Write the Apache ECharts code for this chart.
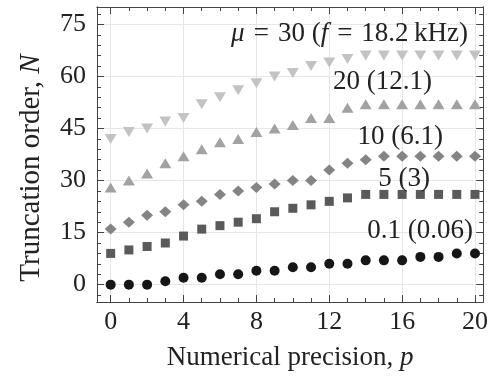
<!DOCTYPE html>
<html><head><meta charset="utf-8">
<script src="https://cdn.jsdelivr.net/npm/echarts@6/dist/echarts.min.js"></script>
<style>html,body{margin:0;padding:0;background:#fff}#c{width:491px;height:384px}</style>
</head><body><div id="c"></div>
<script>
const precision = [0,1,2,3,4,5,6,7,8,9,10,11,12,13,14,15,16,17,18,19,20];
const n_mu01 = [0,0,0,1,2,2,3,3,4,4,5,5,6,6,7,7,7,8,8,9,9];
const n_mu5  = [9,10,11,12,14,16,17,18,19,21,22,23,24,25,26,26,26,26,26,26,26];
const n_mu10 = [16,18,20,21,23,24,26,27,28,29,30,30,33,35,36,37,37,37,37,37,37];
const n_mu20 = [28,30,32,35,37,39,41,42,44,45,46,48,48,51,52,52,52,52,52,52,52];
const n_mu30 = [42,44,45,47,48,52,54,56,58,60,61,63,64,65,66,66,66,66,66,66,66];
const xTicks = [0,4,8,12,16,20];
const yTicks = [0,15,30,45,60,75];
const xMinor = [1,2,3,5,6,7,9,10,11,13,14,15,17,18,19];
const yMinor = [-3,3,6,9,12,18,21,24,27,33,36,39,42,48,51,54,57,63,66,69,72,78];
const seriesLabels = ['0.1 (0.06)','5 (3)','10 (6.1)','20 (12.1)'];
const xTitle = 'Numerical precision, {i|p}';
const yTitle = 'Truncation order, {i|N}';

const FONT = 'Liberation Serif';
const X_RANGE = {min:-0.75, max:20.45};
const Y_RANGE = {min:-5, max:80};
const lineCol = '#444';
const TXT = '#222';

function pts(ys){ return precision.map((p,i)=>[p, ys[i]]); }

function xAx(pos, ticks, len, labels, split){
  return {type:'value', position:pos, ...X_RANGE,
    axisLine:{show:true, onZero:false, lineStyle:{color:lineCol, width:1}},
    axisTick:{show:true, inside:true, length:len, customValues:ticks, lineStyle:{color:lineCol}},
    axisLabel:{show:labels, customValues:ticks, fontFamily:FONT, fontSize:26, color:TXT, margin:7},
    splitLine:{show:split, lineStyle:{color:'#e6e6e6', width:1}},
    minorTick:{show:false}};
}
function yAx(pos, ticks, len, labels, split){
  return {type:'value', position:pos, ...Y_RANGE,
    axisLine:{show:true, onZero:false, lineStyle:{color:lineCol, width:1}},
    axisTick:{show:true, inside:true, length:len, customValues:ticks, lineStyle:{color:lineCol}},
    axisLabel:{show:labels, customValues:ticks, fontFamily:FONT, fontSize:26, color:TXT, margin:11},
    splitLine:{show:split, lineStyle:{color:'#e6e6e6', width:1}},
    minorTick:{show:false}};
}
function nameStyle(size){
  return {fontFamily:FONT, fontSize:size, color:TXT, rich:{i:{fontFamily:FONT, fontSize:size, fontStyle:'italic', color:TXT}}};
}

const xMain = xAx('bottom', xTicks, 7, true, true);
xMain.name = xTitle;
xMain.nameLocation = 'middle';
xMain.nameGap = 42;
xMain.nameTextStyle = nameStyle(27);
const yMain = yAx('left', yTicks, 7, true, true);

const mk = (name, data, symbol, size, color, rotate) => ({
  name, type:'scatter', xAxisIndex:0, yAxisIndex:0, data:pts(data),
  symbol, symbolSize:size, symbolRotate:rotate||0,
  itemStyle:{color, opacity:1}, silent:true, animation:false, z:5
});

function txt(right, y, text){
  return {type:'text', right: 491-right, top: y-15, z:10,
    style:{text, font:'27px "Liberation Serif"', fill:TXT,
      rich:{i:{fontFamily:FONT, fontSize:27, fontStyle:'italic', fill:TXT}}}};
}

const chart = echarts.init(document.getElementById('c'), null, {renderer:'canvas'});
chart.setOption({
  animation:false,
  backgroundColor:'#fff',
  grid:{left:97, right:6, top:7, bottom:82, containLabel:false},
  xAxis:[xMain, xAx('top', xTicks, 7, false, false), xAx('bottom', xMinor, 4, false, false), xAx('top', xMinor, 4, false, false)],
  yAxis:[yMain, yAx('right', yTicks, 7, false, false), yAx('left', yMinor, 4, false, false), yAx('right', yMinor, 4, false, false)],
  series:[
    mk('mu30', n_mu30, 'triangle', [12,10], '#c3c3c3', 180),
    mk('mu20', n_mu20, 'triangle', [12,10], '#a2a2a2'),
    mk('mu10', n_mu10, 'diamond', [12,11], '#848484'),
    mk('mu5', n_mu5, 'rect', [9,9], '#5a5a5a'),
    mk('mu01', n_mu01, 'circle', 10, '#161616')
  ],
  graphic:[
    {type:'text', x:31, y:168, rotation:Math.PI/2, z:10,
      style:{text:yTitle, font:'29px "Liberation Serif"', fill:TXT, align:'center', verticalAlign:'middle',
        rich:{i:{fontFamily:FONT, fontSize:29, fontStyle:'italic', fill:TXT}}}},
    txt(468, 35, '{i|μ}\u200a = \u200a30 ({i|f}\u200a = \u200a18.2\u2009kHz)'),
    txt(432, 83, seriesLabels[3]),
    txt(443, 138, seriesLabels[2]),
    txt(430, 180, seriesLabels[1]),
    txt(473, 232, seriesLabels[0])
  ]
});
</script></body></html>
